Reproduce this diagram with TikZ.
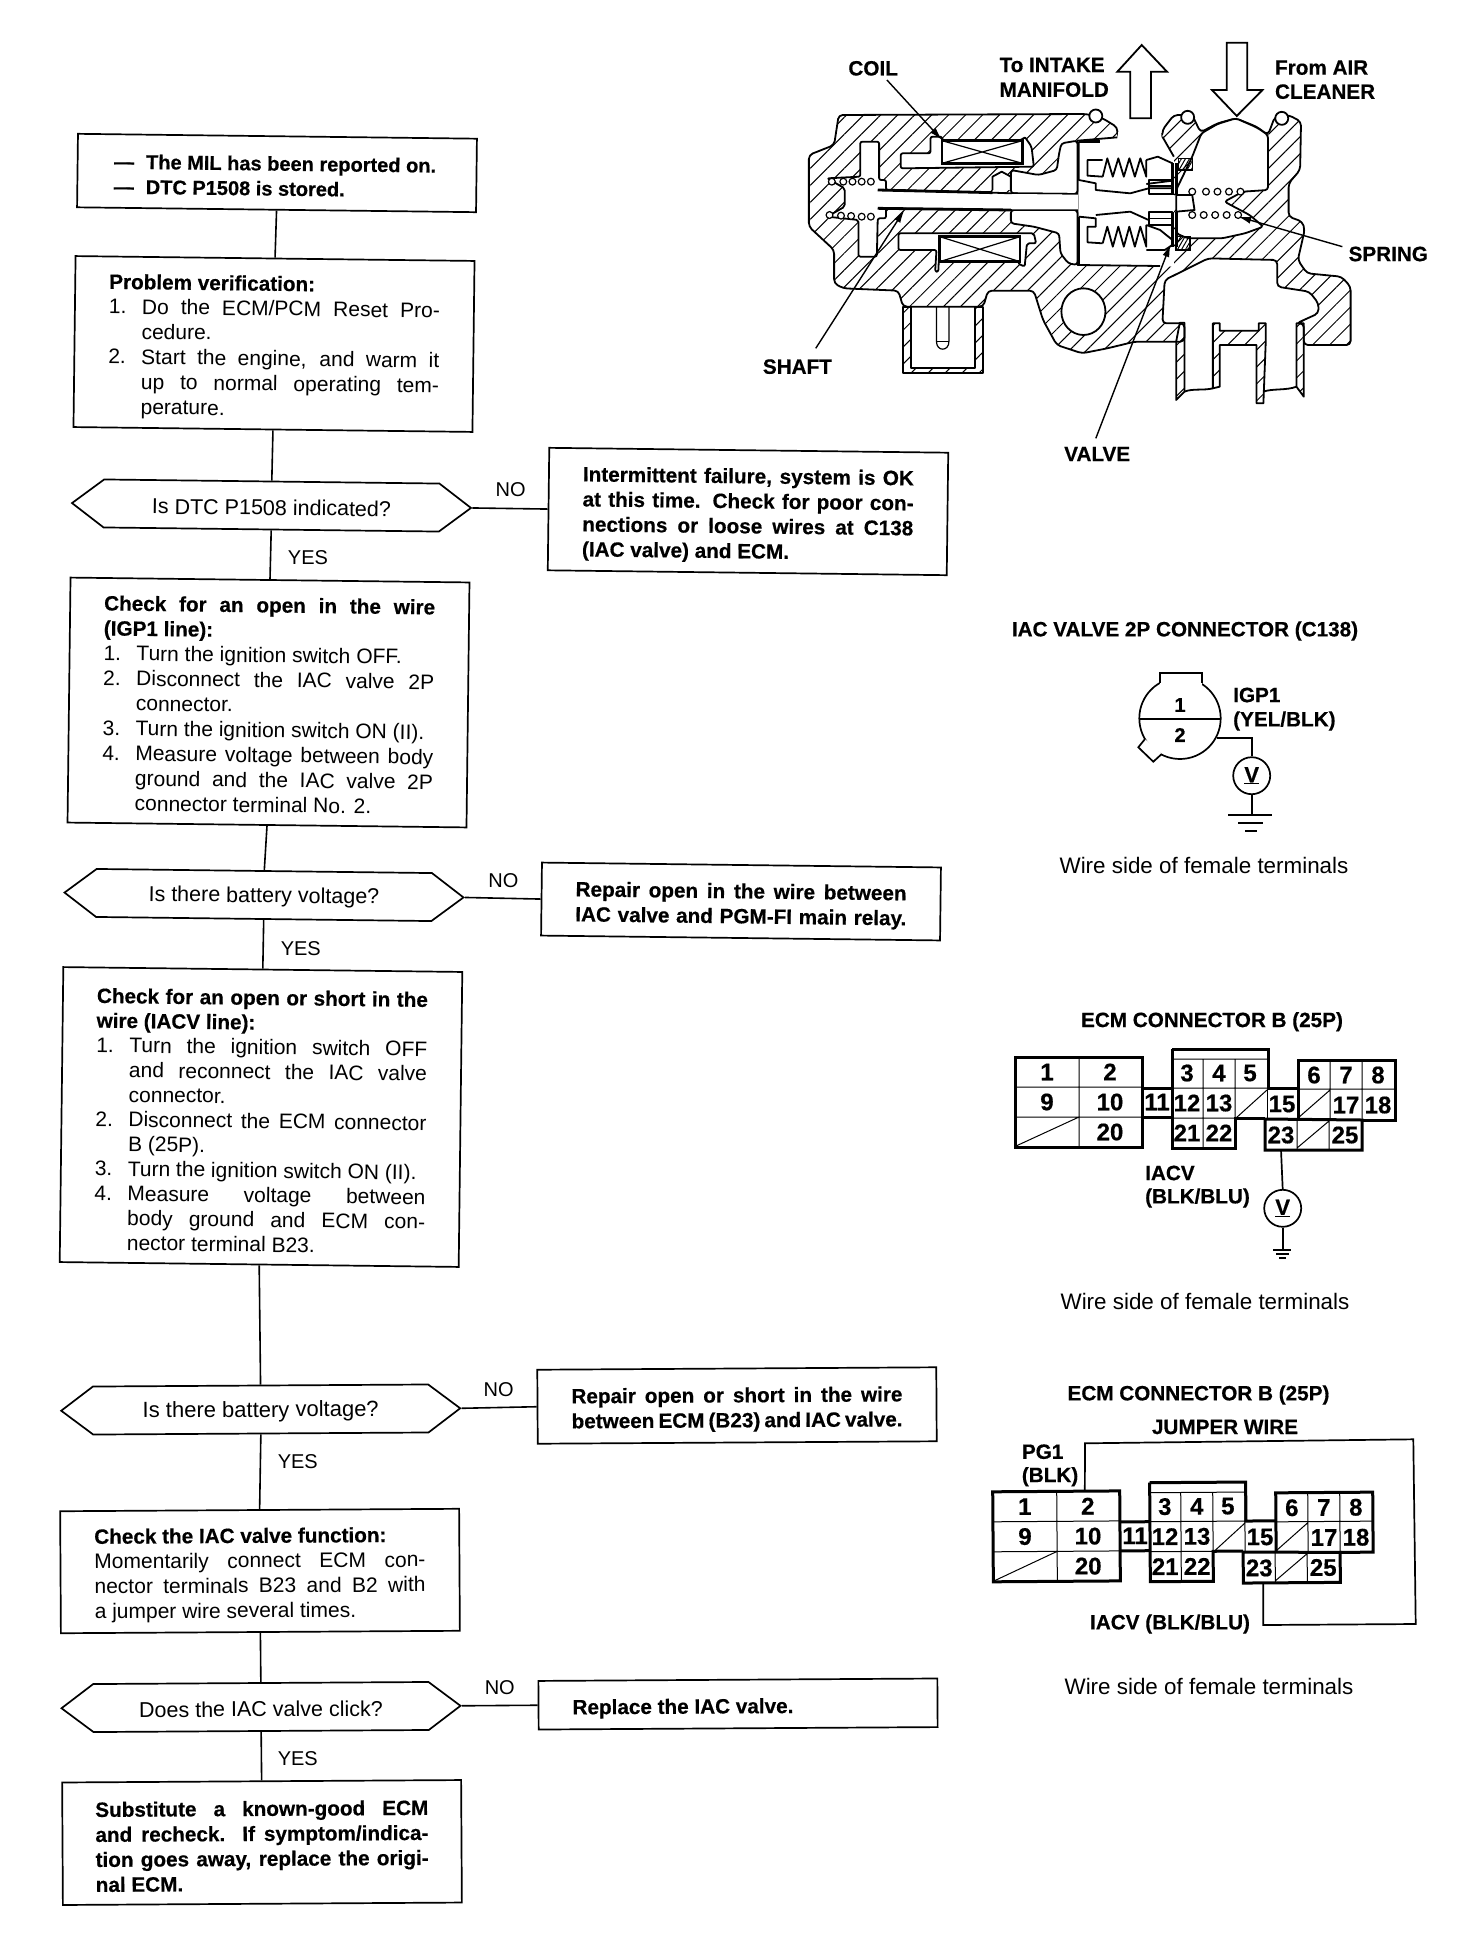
\documentclass[tikz,border=0pt]{standalone}
\usepackage{fontspec}
\setmainfont{Liberation Sans}[BoldFeatures={FakeBold=0.5}]
\usetikzlibrary{shapes.symbols,patterns.meta,arrows.meta}
\hfuzz=100pt \hbadness=10000 \vbadness=10000 \overfullrule=0pt
\newdimen\tw \tw=331pt
\newcommand{\HB}{\fontsize{20.7}{25}\selectfont\bfseries}
\newcommand{\TJ}[1]{\hbox to\tw{#1}}
\newcommand{\TL}[1]{\hbox to\tw{#1\hss}}
\newcommand{\TNj}[2]{\hbox to\tw{\hbox to 33pt{#1\hss}#2}}
\newcommand{\TNl}[2]{\hbox to\tw{\hbox to 33pt{#1\hss}#2\hss}}
\newcommand{\TCj}[1]{\hbox to\tw{\hskip 33pt #1}}
\newcommand{\TCl}[1]{\hbox to\tw{\hskip 33pt #1\hss}}
\newcommand{\HT}[1]{\vbox{\vskip4pt\hbox{#1}}}
\tikzset{
 flowbox/.style={draw,line width=1.7pt,minimum width=399pt,inner sep=0pt,font=\fontsize{21}{25}\selectfont},
 hexbox/.style={draw,line width=1.7pt,shape=signal,signal to=east and west,signal pointer angle=74,
   minimum width=399pt,minimum height=48pt,inner sep=0pt,font=\fontsize{21.5}{25}\selectfont},
 skewa/.style={rotate=-0.7},
 skewb/.style={rotate=0.35},
 conn/.style={line width=1.6pt},
 tag/.style={inner sep=0pt,font=\fontsize{20}{24}\selectfont},
 lbl/.style={inner sep=0pt,font=\fontsize{20.7}{24}\selectfont\bfseries},
 lblL/.style={lbl,anchor=west},
 wireside/.style={inner sep=0pt,font=\fontsize{22.4}{24}\selectfont},
 cell/.style={inner sep=0pt,minimum width=28pt,minimum height=29pt,font=\fontsize{24}{24}\selectfont\bfseries},
 thinw/.style={line width=1pt},
 thickw/.style={line width=3pt,line join=miter},
 wire/.style={line width=1.7pt},
 meter/.style={draw,circle,line width=1.7pt,minimum size=37pt,inner sep=0pt,font=\fontsize{22}{22}\selectfont\bfseries},
 hatched/.style={pattern={Lines[angle=45,distance=12pt,line width=1pt]},draw=black,line width=1.8pt,line join=round},
 cut/.style={fill=white,draw=black,line width=1.8pt,line join=round},
 ol/.style={line width=1.8pt,line join=round},
 fine/.style={line width=1.2pt,line join=round},
 heavy/.style={line width=2.8pt,line join=round},
 seal/.style={pattern={Lines[angle=60,distance=3.5pt,line width=1pt]},draw=black,line width=1.4pt},
 hollow/.style={fill=white,draw=black,line width=1.8pt,line join=miter},
 leader/.style={line width=1.4pt,-{Latex[length=13pt,width=7pt]}},
 coilw/.style={fill=white,draw=black,line width=2.8pt},
}
\newcommand{\ecmconn}[1]{%
 \draw[thinw] (1079,1057)--(1079,1147) (1015,1087)--(1142,1087) (1015,1117)--(1142,1117) (1016,1146)--(1079,1117);
 \draw[thickw] (1015,1057) rectangle (1142,1147);
 \draw[thickw] (1142,1088)--(1172,1088) (1142,1117)--(1172,1117);
 \draw[thinw] (1172,1059)--(1268,1059) (1172,1088)--(1267,1088) (1203,1059)--(1203,1148) (1235,1059)--(1235,1118) (1172,1118)--(1235,1118) (1236,1118)--(1267,1090);
 \draw[thickw] (1172,1049)--(1268,1049)--(1268,1088)--(1298,1088) (1172,1049)--(1172,1148)--(1235,1148)--(1235,1118)--(1265,1118);
 \draw[thinw] (1267,1060)--(1267,1118);
 \draw[thickw] (1265,1119)--(1362,1120)--(1362,1150)--(1265,1150)--cycle;
 \draw[thinw] (1297,1120)--(1297,1150) (1329,1120)--(1329,1150) (1297,1148)--(1329,1121);
 \draw[thickw] (1298,1118)--(1298,1060)--(1395,1060)--(1395,1120)--(1362,1120);
 \draw[thinw] (1298,1089)--(1395,1089) (1330,1060)--(1330,1120) (1362,1060)--(1362,1120) (1298,1118)--(1330,1090);
 \foreach \n/\x/\y in {1/1047/1072,2/1110/1072,9/1047/1102,10/1110/1102,20/1110/1132,11/1157/1102,12/1187/1103,13/1219/1103,21/1187/1133,22/1219/1133,3/1187/1073,4/1219/1073,5/1250/1073,15/1282/1104,23/1281/1135,25/1345/1135,6/1314/1075,7/1346/1075,8/1378/1075,17/1346/1105,18/1378/1105}
   \node[cell] (#1n\n) at (\x,\y) {\n};
}
\begin{document}
\begin{tikzpicture}[x=1pt,y=-1pt]
\useasboundingbox (0,0) rectangle (1472,1946);
\fill[white] (0,0) rectangle (1472,1946);

% ---------- flow chart ----------
\node[flowbox,skewa,minimum height=73.5pt] (b1) at (277,173) {\vbox{\vskip6pt\tw=326pt\fontsize{20}{25}\selectfont\bfseries
  \TL{\hbox to 32pt{---\hss}The MIL has been reported on.}
  \TL{\hbox to 32pt{---\hss}DTC P1508 is stored.}}};
\node[flowbox,skewa,minimum height=171pt] (b2) at (274,344) {\vbox{\vskip8pt
  \TL{\HB Problem verification:}
  \TNj{1.}{Do the ECM/PCM Reset Pro-}
  \TCl{cedure.}
  \TNj{2.}{Start the engine, and warm it}
  \TCj{up to normal operating tem-}
  \TCl{perature.}}};
\node[hexbox,skewa] (h1) at (271.5,505.5) {\HT{Is DTC P1508 indicated?}};
\node[flowbox,skewa,minimum height=122.5pt] (r1) at (748,511.5) {\vbox{\vskip8pt\HB
  \TJ{Intermittent failure, system is OK}
  \TJ{at this time. Check for poor con-}
  \TJ{nections or loose wires at C138}
  \TL{(IAC valve) and ECM.}}};
\node[flowbox,skewa,minimum height=245pt] (b3) at (268.5,702.5) {\vbox{\vskip5pt
  \TJ{\HB Check for an open in the wire}
  \TL{\HB (IGP1 line):}
  \TNl{1.}{Turn the ignition switch OFF.}
  \TNj{2.}{Disconnect the IAC valve 2P}
  \TCl{connector.}
  \TNl{3.}{Turn the ignition switch ON (II).}
  \TNj{4.}{Measure voltage between body}
  \TCj{ground and the IAC valve 2P}
  \TCl{connector terminal No. 2.}}};
\node[hexbox,skewa] (h2) at (264,895) {\HT{Is there battery voltage?}};
\node[flowbox,skewa,minimum height=73pt] (r2) at (741,901.5) {\vbox{\vskip8pt\HB
  \TJ{Repair open in the wire between}
  \TJ{IAC valve and PGM-FI main relay.}}};
\node[flowbox,skewa,minimum height=295pt] (b4) at (261,1117) {\vbox{\vskip8pt\baselineskip=24.7pt
  \TJ{\HB Check for an open or short in the}
  \TL{\HB wire (IACV line):}
  \TNj{1.}{Turn the ignition switch OFF}
  \TCj{and reconnect the IAC valve}
  \TCl{connector.}
  \TNj{2.}{Disconnect the ECM connector}
  \TCl{B (25P).}
  \TNl{3.}{Turn the ignition switch ON (II).}
  \TNj{4.}{Measure voltage between}
  \TCj{body ground and ECM con-}
  \TCl{nector terminal B23.}}};
\node[hexbox,skewb,font=\fontsize{22}{25}\selectfont] (h3) at (260.7,1409.5) {\HT{Is there battery voltage?}};
\node[flowbox,skewb,minimum height=74pt] (r3) at (737,1405.5) {\vbox{\vskip8pt\HB
  \TJ{Repair open or short in the wire}
  \TJ{between ECM (B23) and IAC valve.}}};
\node[flowbox,skewb,minimum height=122pt] (b5) at (260,1571) {\vbox{\vskip8pt
  \TL{\HB Check the IAC valve function:}
  \TJ{Momentarily connect ECM con-}
  \TJ{nector terminals B23 and B2 with}
  \TL{a jumper wire several times.}}};
\node[hexbox,skewb] (h4) at (261,1707) {\HT{Does the IAC valve click?}};
\node[flowbox,skewb,minimum height=48.6pt] (r4) at (738,1704) {\vbox{\vskip8pt\HB
  \TL{Replace the IAC valve.}}};
\node[flowbox,skewb,minimum height=122.5pt] (b6) at (262,1842.5) {\vbox{\vskip7pt\tw=333pt\HB
  \TJ{Substitute a known-good ECM}
  \TJ{and recheck. If symptom/indica-}
  \TJ{tion goes away, replace the origi-}
  \TL{nal ECM.}}};

\draw[conn] (b1.south)--(b2.north);
\draw[conn] (b2.south)--(h1.north);
\draw[conn] (h1.south)--(b3.north);
\draw[conn] (b3.south)--(h2.north);
\draw[conn] (h2.south)--(b4.north);
\draw[conn] (b4.south)--(h3.north);
\draw[conn] (h3.south)--(b5.north);
\draw[conn] (b5.south)--(h4.north);
\draw[conn] (h4.south)--(b6.north);
\draw[conn] (h1.east)--(r1.west);
\draw[conn] (h2.east)--(r2.west);
\draw[conn] (h3.east)--(r3.west);
\draw[conn] (h4.east)--(r4.west);

\node[tag] (no1) at (510.6,490) {NO};
\node[tag] (yes1) at (308,557.3) {YES};
\node[tag] (no2) at (503.4,880.7) {NO};
\node[tag] (yes2) at (300.8,948.3) {YES};
\node[tag] (no3) at (498.6,1390) {NO};
\node[tag] (yes3) at (297.8,1461.7) {YES};
\node[tag] (no4) at (499.8,1687.3) {NO};
\node[tag] (yes4) at (297.8,1758.3) {YES};

% ---------- IAC valve cut-away ----------
\begin{scope}[shift={(740,20)},x=0.4591pt,y=-0.33333pt]
 % body
 \draw[hatched,rounded corners=4pt] (215,285)--(755,282)--(790,295)--(822,322)--(822,352)--(920,352)--(920,330)--(945,285)--(985,285)--(1003,337)--(1040,310)--(1080,295)--(1125,320)--(1150,345)--(1165,290)--(1195,285)--(1222,305)--(1220,450)--(1195,490)--(1195,590)--(1225,605)--(1230,630)--(1215,720)--(1235,760)--(1310,770)--(1330,800)--(1330,975)--(1228,975)--(1228,910)--(1212,910)--(1260,880)--(1260,850)--(1240,815)--(1170,800)--(1170,720)--(1020,715)--(925,780)--(920,910)--(968,910)--(968,965)--(860,965)--(800,985)--(745,1000)--(690,975)--(660,900)--(640,812)--(540,812)--(530,860)--(355,860)--(345,812)--(225,805)--(205,790)--(205,690)--(150,620)--(150,405)--(205,375)--cycle;
 % tube walls
 \draw[hatched] (950,965)--(958,908)--(968,908)--(968,1115)--(950,1140)--cycle;
 \draw[hatched] (1030,910)--(1045,910)--(1045,932)--(1130,932)--(1130,910)--(1145,910)--(1145,970)--(1140,1150)--(1125,1150)--(1125,975)--(1045,975)--(1045,1100)--(1030,1105)--cycle;
 \draw[hatched] (1212,910)--(1228,910)--(1228,1130)--(1212,1100)--cycle;
 \draw[ol] (968,1115) .. controls (985,1105) and (1010,1112) .. (1030,1105);
 \draw[ol] (1140,1115) .. controls (1160,1105) and (1190,1112) .. (1212,1100);
 % electrical connector
 \draw[hatched] (355,860)--(372,860)--(372,1045)--(512,1045)--(512,860)--(530,860)--(530,1060)--(355,1060)--cycle;
 \draw[fine] (428,860)--(428,965) .. controls (428,995) and (455,995) .. (455,965)--(455,860);
 \draw[fine] (428,965)--(455,965);
 % hole
 \draw[cut] (748,875) circle[x radius=48,y radius=70];
 % chamber open to intake
 \fill[white] (824,335)--(917,335)--(918,350)--(945,410)--(945,740)--(915,738)--(735,735)--(735,362)--(822,354)--cycle;
 \draw[ol] (822,352)--(735,362)--(735,735)--(915,738);
 \draw[ol] (920,350)--(945,410);
 % air-cleaner side cavity
 \draw[cut,rounded corners=3pt] (1005,340)--(1040,312)--(1080,295)--(1125,322)--(1150,345)--(1150,510)--(1095,515)--(1055,545)--(1110,585)--(1140,620)--(1100,640)--(1050,655)--(975,655)--(950,640)--(950,510)--(985,410)--cycle;
 % side pockets near the chamber
 \draw[cut,rounded corners=3pt] (700,370)--(735,362)--(735,522)--(590,520)--(590,450)--(650,465)--(690,450)--(695,400)--cycle;
 \draw[cut,rounded corners=3pt] (590,570)--(735,570)--(735,735)--(715,730)--(698,700)--(695,640)--(640,620)--(590,610)--cycle;
 % shaft bore and left spring chamber
 \draw[cut,rounded corners=2pt] (190,475)--(262,470)--(262,365)--(303,365)--(303,480)--(318,480)--(318,510)--(550,518)--(590,520)--(735,522)--(735,570)--(590,570)--(550,570)--(318,565)--(318,595)--(300,595)--(298,710)--(258,710)--(258,600)--(190,590)--(228,560)--(228,505)--cycle;
 \fill[white] (592,522)--(737,524)--(737,568)--(592,568)--cycle;
 \draw[heavy] (300,510)--(550,518) (300,565)--(590,570);
 \draw[cut] (550,510)--(550,470)--(570,455)--(590,470)--(590,510);
 % coil chambers
 \draw[cut,rounded corners=2pt] (350,400)--(415,400)--(415,350)--(440,350)--(440,360)--(615,360)--(620,350)--(635,380)--(640,440)--(350,445)--cycle;
 \draw[cut,rounded corners=2pt] (345,640)--(640,640)--(645,670)--(625,670)--(620,740)--(605,730)--(605,655)--(435,650)--(432,755)--(425,755)--(428,690)--(345,690)--cycle;
 \draw[coilw] (440,362) rectangle (615,430);
 \draw[fine] (440,362)--(615,430) (440,430)--(615,362);
 \draw[coilw] (435,650) rectangle (610,725);
 \draw[fine] (435,650)--(610,725) (435,725)--(610,650);
 % valve carriers
 \draw[ol] (738,365)--(738,480)--(775,490)--(775,510)--(850,520)--(890,505)--(942,505);
 \draw[heavy] (738,365)--(785,365);
 \draw[ol] (790,420)--(757,420)--(757,467)--(790,470);
 \draw[ol] (885,420)--(910,410)--(942,430) (885,492)--(942,482);
 \draw[ol] (790,470)--(800,415)--(812,470)--(824,415)--(836,470)--(848,415)--(860,470)--(872,415)--(885,470)--(885,420);
 \draw[ol] (738,590)--(775,595)--(775,620)--(757,620)--(757,667)--(790,670);
 \draw[ol] (738,590)--(738,735);
 \draw[ol] (775,585)--(850,575)--(890,600);
 \draw[ol] (885,615)--(915,630)--(942,660) (885,690)--(925,690)--(942,675);
 \draw[ol] (790,670)--(800,620)--(812,680)--(824,620)--(836,680)--(848,620)--(860,680)--(872,620)--(885,680)--(885,615);
 \draw[ol] (890,480) rectangle (942,522);
 \draw[fine] (890,498)--(942,498);
 \draw[ol] (890,575) rectangle (942,615);
 \draw[fine] (890,595)--(942,595);
 % shaft tip and valve plate
 \draw[ol] (950,525)--(985,525)--(990,570)--(950,575);
 \draw[heavy] (942,430)--(942,525) (950,430)--(950,525) (942,575)--(942,680) (950,575)--(950,680);
 \draw[seal] (955,415) rectangle (985,450);
 \draw[seal] (950,650) rectangle (980,690);
 % o-rings
 \foreach \ox/\oy in {775/288,975/292,1180/295} \draw[cut] (\ox,\oy) circle[radius=6.5pt];
 % spring coils
 \foreach \cx/\cy in {200/485,225/485,245/485,265/485,285/485,195/585,220/587,242/588,265/590,285/590,985/515,1015/515,1040/515,1065/515,1090/515,985/585,1010/585,1035/585,1060/585,1085/585}
  \draw[fill=white,line width=1.2pt] (\cx,\cy) circle[radius=3.4pt];
 % flow arrows
 \draw[hollow] (850,295)--(895,295)--(895,155)--(930,155)--(875,75)--(822,155)--(850,155)--cycle;
 \draw[hollow] (1060,68)--(1105,68)--(1105,210)--(1138,210)--(1082,288)--(1028,210)--(1060,210)--cycle;
 % labels and leaders
 \node[lbl] (lcoil) at (290,145) {COIL};
 \node[lbl] (lshaft) at (125,1040) {SHAFT};
 \node[lbl] (lvalve) at (778,1302) {VALVE};
 \node[lbl] (lspring) at (1412,702) {SPRING};
 \node[lblL] (lintake) at (565,135) {To INTAKE};
 \node[lblL] (lmani) at (565,209) {MANIFOLD};
 \node[lblL] (lair) at (1165,143) {From AIR};
 \node[lblL] (lclean) at (1165,215) {CLEANER};
 \coordinate (tcoil) at (440,360);
 \coordinate (tshaft) at (358,570);
 \coordinate (tvalve) at (938,672);
 \coordinate (tspring) at (1085,590);
 \coordinate (scoil) at (320,180);
 \coordinate (sshaft) at (165,985);
 \coordinate (svalve) at (775,1255);
 \coordinate (sspring) at (1312,680);
 \draw[leader] (scoil)--(tcoil);
 \draw[leader] (sshaft)--(tshaft);
 \draw[leader] (svalve)--(tvalve);
 \draw[leader] (sspring)--(tspring);
\end{scope}

% ---------- IAC valve 2P connector ----------
\node[lbl] (t2p) at (1185,631) {IAC VALVE 2P CONNECTOR (C138)};
\draw[wire] (1180,718.3) circle[radius=40.7pt];
\fill[white] (1160,672) rectangle (1201.7,685);
\draw[wire,line join=miter] (1160,683)--(1160,673)--(1201.7,673)--(1201.7,683);
\fill[white] (1145,739)--(1138.3,747.3)--(1153.3,761.7)--(1161.7,754)--cycle;
\draw[wire,line join=miter] (1145,739)--(1138.3,747.3)--(1153.3,761.7)--(1161.7,754);
\draw[wire] (1139.5,719)--(1220.5,719);
\node[cell] (p1) at (1180,705) {\fontsize{20}{20}\selectfont 1};
\node[cell] (p2) at (1180,735) {\fontsize{20}{20}\selectfont 2};
\node[lblL] (igp) at (1233,695) {IGP1};
\node[lblL] (yb) at (1233,721) {(YEL/BLK)};
\node[meter] (v1) at (1251.7,775.7) {\underline{V}};
\coordinate (p2w) at (1216.7,738.3);
\coordinate (g1) at (1251.7,815);
\draw[wire] (p2w)-|(v1.north);
\draw[wire] (v1.south)--(g1);
\draw[wire] (1228,815)--(1272,815);
\draw[wire] (1238,823.3)--(1263,823.3);
\draw[wire] (1245,831)--(1257,831);
\node[wireside] (w1) at (1204,865) {Wire side of female terminals};

% ---------- ECM connector, voltmeter ----------
\node[lbl] (t1) at (1212,1021.7) {ECM CONNECTOR B (25P)};
\ecmconn{c1}
\node[lblL] (iacv1) at (1145,1173) {IACV};
\node[lblL] (bb1) at (1145,1198) {(BLK/BLU)};
\node[meter] (v2) at (1282.7,1208.3) {\underline{V}};
\coordinate (g2) at (1282.7,1250);
\draw[wire] (c1n23.south)--(v2.north);
\draw[wire] (v2.south)--(g2);
\draw[wire] (1273,1250)--(1291,1250);
\draw[wire] (1276,1254)--(1289,1254);
\draw[wire] (1279,1258)--(1286,1258);
\node[wireside] (w2) at (1205,1301) {Wire side of female terminals};

% ---------- ECM connector, jumper ----------
\node[lbl] (t3) at (1198.5,1395) {ECM CONNECTOR B (25P)};
\node[lbl] (jw) at (1225,1427) {JUMPER WIRE};
\node[lblL] (pg) at (1021.7,1451.7) {PG1};
\node[lblL] (bk) at (1021.7,1476.7) {(BLK)};
\begin{scope}[shift={(-22,433.5)},rotate around={0.4:(1200,1100)}]
 \ecmconn{c2}
\end{scope}
\coordinate (ja) at (1085,1443.3);
\coordinate (jb) at (1413.3,1439.3);
\coordinate (jc) at (1415.7,1624);
\coordinate (jd) at (1263.3,1625);
\draw[wire,line join=miter] ([xshift=-3pt]c2n2.north)--(ja)--(jb)--(jc)--(jd)--([xshift=4pt]c2n23.south);
\node[lbl] (iacv2) at (1170,1624) {IACV (BLK/BLU)};
\node[wireside] (w3) at (1209,1686.7) {Wire side of female terminals};
\end{tikzpicture}
\end{document}
